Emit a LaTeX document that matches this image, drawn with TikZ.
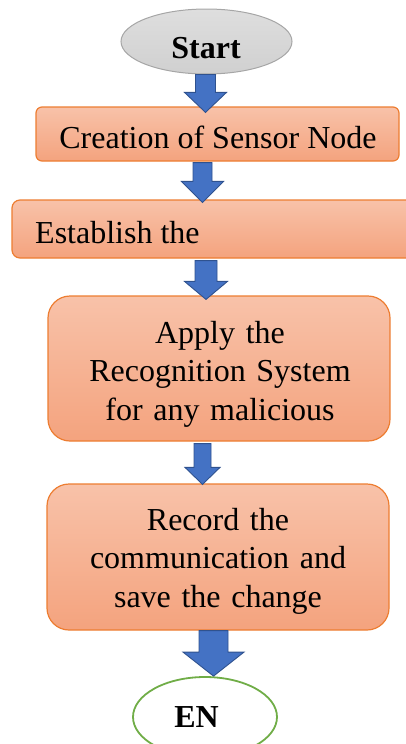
\documentclass[tikz,border=0pt]{standalone}
\usepackage{fontspec}
\setmainfont{Liberation Serif}
\usetikzlibrary{shapes.geometric,calc}
\definecolor{boxtop}{HTML}{F8C2A9}
\definecolor{boxbot}{HTML}{F4A37E}
\definecolor{boxline}{HTML}{ED7D31}
\definecolor{arrfill}{HTML}{4472C4}
\definecolor{arrline}{HTML}{2F528F}
\definecolor{startfill}{HTML}{D0D0D0}
\definecolor{startline}{HTML}{A6A6A6}
\definecolor{endline}{HTML}{70AD47}
\tikzset{
  procbox/.style={draw=boxline, line width=1.2pt, top color=boxtop, bottom color=boxbot, inner sep=0pt},
  barrow/.style={draw=arrline, fill=arrfill, line width=0.9pt, line join=miter},
  txt/.style={inner sep=0pt, font=\fontsize{32}{38.5}\selectfont, anchor=base},
  mtxt/.style={txt, text width=340pt, align=center},
}
% #1 from node, #2 to node, #3 x centre, #4 top offset, #5 tip offset, #6 shaft half, #7 head half, #8 head length
\newcommand\blockarr[8]{%
  \draw[barrow] let \p1=(#1.south), \p2=(#2.north) in
    (#3-#6,\y1+#4) -- (#3+#6,\y1+#4) -- (#3+#6,\y2+#5+#8) -- (#3+#7,\y2+#5+#8)
    -- (#3,\y2+#5) -- (#3-#7,\y2+#5+#8) -- (#3-#6,\y2+#5+#8) -- cycle;}
\begin{document}
\begin{tikzpicture}[x=1pt,y=-1pt]
\useasboundingbox (0,0) rectangle (406,744);
\clip (0,0) rectangle (406,744);
% nodes
\node[ellipse, draw=startline, line width=1pt, top color=startfill!70!white, bottom color=startfill, minimum width=171pt, minimum height=65pt, inner sep=0pt] (st) at (206.5,41.5) {};
\node[procbox, rounded corners=6pt, minimum width=363pt, minimum height=54pt] (b1) at (217.5,134) {};
\node[procbox, rounded corners=8pt, minimum width=408pt, minimum height=58pt] (b2) at (216,229) {};
\node[procbox, rounded corners=22pt, minimum width=342pt, minimum height=145pt] (b3) at (219,368.5) {};
\node[procbox, rounded corners=22pt, minimum width=342pt, minimum height=146pt] (b4) at (218,557) {};
\node[ellipse, draw=endline, line width=1.8pt, fill=white, minimum width=144pt, minimum height=80pt, inner sep=0pt] (en) at (205,717) {};
% texts
\node[txt, font=\fontsize{32}{38.5}\selectfont\bfseries] (stt) at (206,58) {Start};
\node[txt] (b1t) at (218,148) {Creation of Sensor Node};
\node[txt, anchor=base west] (b2t) at (35,243) {Establish the};
\node[mtxt] (b3t) at (220,343) {Apply the\\Recognition System\\for any malicious};
\node[mtxt] (b4t) at (218,530) {Record the\\communication and\\save the change};
\node[txt, font=\fontsize{32}{38.5}\selectfont\bfseries] (ent) at (196.5,727) {EN};
% block arrows
\blockarr{st}{b1}{205.5pt}{0pt}{-6pt}{10pt}{21pt}{20pt}
\blockarr{b1}{b2}{202.5pt}{-1pt}{-3pt}{9.5pt}{21pt}{21pt}
\blockarr{b2}{b3}{206pt}{-2pt}{-4pt}{11pt}{21.5pt}{18pt}
\blockarr{b3}{b4}{202.5pt}{-2pt}{-1pt}{8.5pt}{17.5pt}{17pt}
\blockarr{b4}{en}{213.5pt}{0pt}{0pt}{14.5pt}{30.5pt}{24pt}
\end{tikzpicture}
\end{document}
